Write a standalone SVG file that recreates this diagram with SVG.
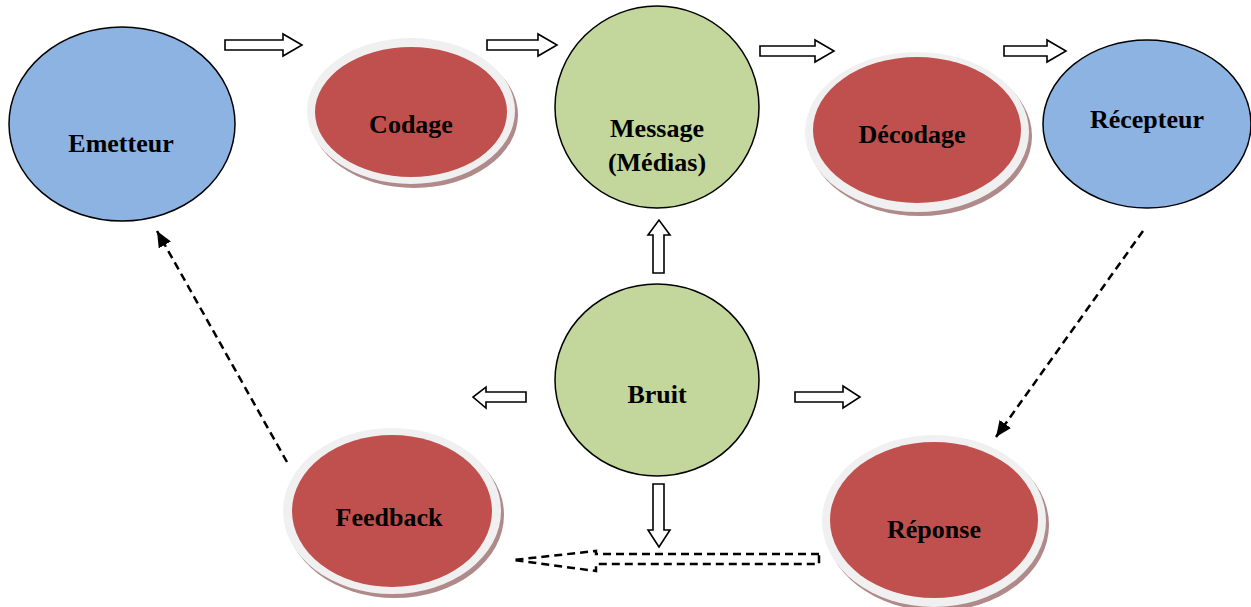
<svg xmlns="http://www.w3.org/2000/svg" width="1251" height="607" viewBox="0 0 1251 607">
  <defs>
    <style>
      .blue { fill: #8db3e2; stroke: #000; stroke-width: 1.5; }
      .green { fill: #c3d69b; stroke: #000; stroke-width: 1.5; }
      .shadow { fill: #b08a8a; }
      .ring { fill: #f0f0f0; }
      .red { fill: #c0504d; }
      .lbl { font-family: "Liberation Serif", "Times New Roman", serif; font-weight: bold; font-size: 26px; fill: #000; text-anchor: middle; }
      .blk { fill: #fff; stroke: #000; stroke-width: 1.6; stroke-linejoin: miter; }
      .dash { fill: none; stroke: #000; stroke-width: 2.5; stroke-dasharray: 8 5; }
      .dashblk { fill: #fff; stroke: #000; stroke-width: 2.5; stroke-dasharray: 8 5; }
    </style>
    <marker id="head" markerUnits="userSpaceOnUse" markerWidth="18" markerHeight="14" refX="16" refY="7" orient="auto">
      <path d="M0,0 L16,7 L0,14 Z" fill="#000"/>
    </marker>
  </defs>

  <!-- connectors -->
  <g id="connectors">
    <polygon class="blk" points="225,40 283,40 283,34 302,45 283,56 283,50 225,50"/>
    <polygon class="blk" points="487,40 538,40 538,34 557,45 538,56 538,50 487,50"/>
    <polygon class="blk" points="760,46 815,46 815,40 834,51 815,62 815,56 760,56"/>
    <polygon class="blk" points="1004,46 1047,46 1047,40 1066,51 1047,62 1047,56 1004,56"/>
    <polygon class="blk" points="653,273 653,235 648,235 659,220 670,235 664,235 664,273"/>
    <polygon class="blk" points="526,392 486,392 486,387 473,397 486,408 486,402 526,402"/>
    <polygon class="blk" points="795,392 843,392 843,386 860,397 843,408 843,402 795,402"/>
    <polygon class="blk" points="653,484 653,530 648,530 659,547 670,530 664,530 664,484"/>
    <polygon class="dashblk" points="819,554 596,554 596,551 513,560 596,571 596,564 819,564"/>
    <line class="dash" x1="287" y1="462" x2="157" y2="231" marker-end="url(#head)"/>
    <line class="dash" x1="1143" y1="231" x2="996" y2="437" marker-end="url(#head)"/>
  </g>

  <g id="emetteur">
    <ellipse class="blue" cx="122" cy="124" rx="113" ry="97"/>
    <text class="lbl" x="121" y="152">Emetteur</text>
  </g>

  <g id="codage">
    <ellipse class="shadow" cx="414" cy="115" rx="104" ry="73"/>
    <ellipse class="ring" cx="411" cy="111" rx="104" ry="73"/>
    <ellipse class="red" cx="411" cy="112" rx="96" ry="65"/>
    <text class="lbl" x="411" y="133">Codage</text>
  </g>

  <g id="message">
    <ellipse class="green" cx="657" cy="107" rx="102" ry="101"/>
    <text class="lbl" x="657" y="137">Message</text>
    <text class="lbl" x="657" y="171">(Médias)</text>
  </g>

  <g id="decodage">
    <ellipse class="shadow" cx="920" cy="136" rx="112" ry="80"/>
    <ellipse class="ring" cx="917" cy="132" rx="112" ry="80"/>
    <ellipse class="red" cx="917" cy="130" rx="104" ry="73"/>
    <text class="lbl" x="912" y="143">Décodage</text>
  </g>

  <g id="recepteur">
    <ellipse class="blue" cx="1147" cy="124" rx="104" ry="84"/>
    <text class="lbl" x="1147" y="128">Récepteur</text>
  </g>

  <g id="bruit">
    <ellipse class="green" cx="657" cy="380" rx="102" ry="96"/>
    <text class="lbl" x="657" y="403">Bruit</text>
  </g>

  <g id="feedback">
    <ellipse class="shadow" cx="395" cy="515" rx="109" ry="83"/>
    <ellipse class="ring" cx="392" cy="511" rx="109" ry="83"/>
    <ellipse class="red" cx="392" cy="511" rx="100" ry="76"/>
    <text class="lbl" x="389" y="526">Feedback</text>
  </g>

  <g id="reponse">
    <ellipse class="shadow" cx="937" cy="525" rx="112" ry="86"/>
    <ellipse class="ring" cx="934" cy="521" rx="112" ry="86"/>
    <ellipse class="red" cx="934" cy="520" rx="104" ry="78"/>
    <text class="lbl" x="934" y="538">Réponse</text>
  </g>
</svg>
